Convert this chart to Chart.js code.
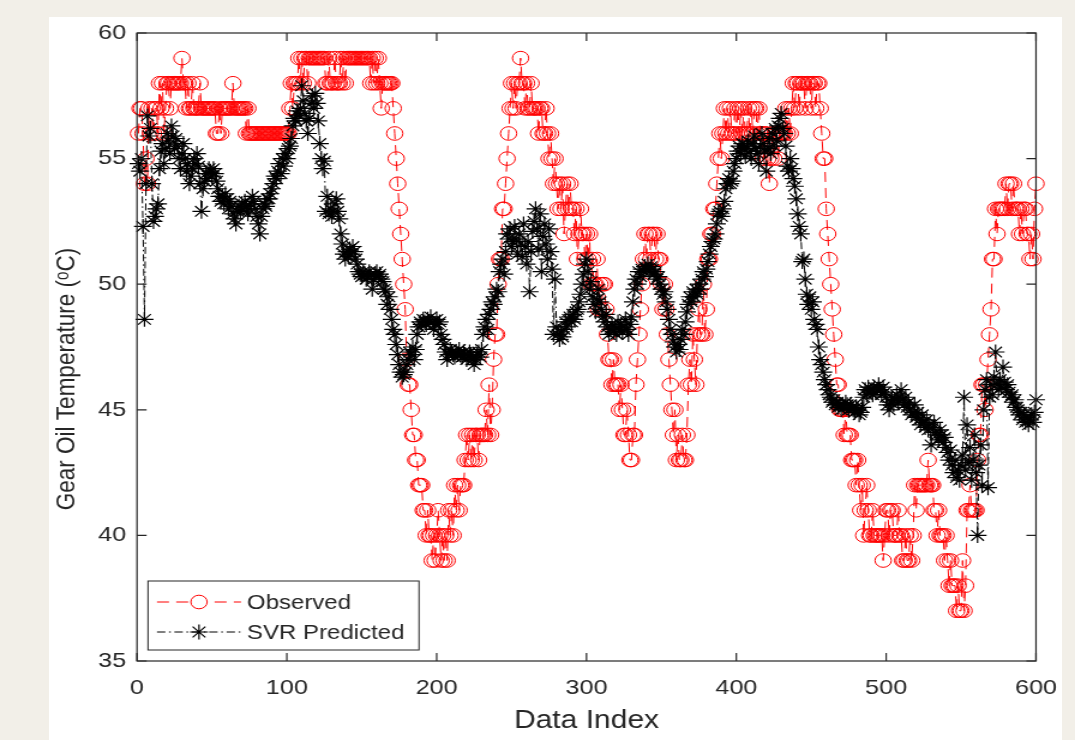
<!DOCTYPE html>
<html>
<head>
<meta charset="utf-8">
<script src="https://cdn.jsdelivr.net/npm/chart.js@4.4.1/dist/chart.umd.min.js"></script>
<style>
  html, body { margin: 0; padding: 0; }
  body { width: 1075px; height: 740px; background: #f2efe8; position: relative; overflow: hidden; }
  #panel { position: absolute; left: 49px; top: 17px; width: 1013px; height: 723px; background: #fff; }
  #wrap { position: absolute; left: 0; top: 0; transform-origin: 0 0; }
  #chart { display: block; }
</style>
</head>
<body>
<div id="panel"></div>
<div id="wrap"><canvas id="chart"></canvas></div>
<script>
/* ---------- data (index 1..600) ---------- */
const observed = [
  56,57,57,56,54,55,54,57,56,57,56,57,57,56,58,57,58,56,57,58,
  58,57,58,58,58,58,58,58,58,59,58,58,57,58,57,57,58,57,57,57,
  57,58,57,57,57,57,57,57,57,57,57,57,56,56,57,56,57,57,57,57,
  57,57,57,58,57,57,57,57,57,57,57,57,56,57,56,56,56,56,56,56,
  56,56,56,56,56,56,56,56,56,56,56,56,56,56,56,56,56,56,56,56,
  56,57,58,57,58,58,58,59,58,59,58,59,59,58,59,59,59,59,59,59,
  59,59,59,59,59,58,58,59,58,58,58,59,58,58,58,59,58,59,58,59,
  59,59,59,59,59,59,59,59,59,59,59,59,59,59,59,58,59,58,59,58,
  59,58,57,58,58,58,58,58,58,58,57,56,55,54,53,52,51,50,49,47,
  46,46,45,44,44,43,43,42,42,42,41,41,40,41,40,40,39,40,39,40,
  41,40,39,40,39,40,39,41,40,41,40,42,41,42,41,42,42,42,43,44,
  43,44,43,44,43,44,44,43,44,44,44,44,45,44,46,44,45,47,48,48,
  50,51,51,53,53,54,55,56,57,58,57,58,57,58,58,59,58,58,57,58,
  57,57,58,57,57,57,57,56,57,57,56,56,57,56,55,56,55,54,55,54,
  53,54,53,54,52,53,54,53,54,53,53,52,53,51,52,53,52,52,51,52,
  51,52,50,51,50,50,51,49,50,49,50,50,49,48,47,47,46,47,46,46,
  46,45,46,45,44,44,45,44,43,43,44,44,46,47,48,49,50,51,52,51,
  52,52,51,52,52,51,52,51,51,50,49,50,49,48,47,46,45,44,45,43,
  44,43,43,44,43,43,44,46,47,46,48,47,46,48,49,48,48,50,48,49,
  51,51,52,52,53,53,54,55,56,55,56,57,56,57,56,57,56,56,57,56,
  57,56,57,56,57,56,56,57,56,57,56,57,57,56,57,56,56,55,56,56,
  55,54,55,56,55,56,56,55,56,56,56,56,57,56,57,56,57,58,57,58,
  58,57,58,58,58,57,58,58,58,57,58,58,57,58,58,57,56,55,55,53,
  52,51,50,49,48,47,46,46,45,45,45,44,45,44,44,44,43,43,43,42,
  43,42,41,42,40,41,42,41,40,40,41,40,40,40,40,40,40,39,40,41,
  41,40,41,41,40,40,40,41,40,40,39,39,40,39,39,40,39,40,42,41,
  42,42,42,42,42,42,42,43,42,42,42,41,41,40,41,40,40,40,39,40,
  39,38,39,38,38,38,37,38,37,37,39,37,38,41,41,42,41,41,41,41,
  43,44,44,46,46,45,46,47,48,49,51,51,53,52,53,53,53,53,53,54,
  53,54,54,53,54,53,53,53,52,53,52,53,53,52,52,51,52,51,53,54
];

const svrPredicted = [
  54.8,54.5,55.0,52.3,48.6,54.0,56.7,55.9,56.2,54.0,52.5,52.7,53.0,53.2,54.6,55.3,55.6,54.8,55.4,56.0,
  55.7,55.2,56.3,55.9,55.4,55.8,55.5,55.0,54.6,55.2,55.6,55.0,54.5,54.8,54.0,54.3,54.6,55.0,54.8,55.2,
  54.7,54.0,52.9,53.8,54.1,54.4,54.2,54.6,54.5,54.3,54.6,54.4,54.1,53.8,53.5,53.3,53.5,53.2,53.6,53.4,
  53.0,53.3,53.1,52.8,52.6,52.4,52.9,53.1,52.9,53.2,53.0,53.3,53.1,52.8,53.0,53.2,53.5,53.3,53.0,52.7,
  52.4,52.0,52.7,53.0,53.2,53.1,53.4,53.4,53.6,53.8,54.0,54.3,54.2,54.5,54.8,54.4,55.0,54.7,55.2,55.0,
  55.4,55.5,55.8,56.3,56.6,56.5,56.9,56.7,57.0,57.9,57.3,56.8,56.5,56.0,56.6,57.2,57.5,57.0,57.6,57.2,
  56.5,55.6,55.0,54.6,54.9,52.9,53.5,52.8,53.0,52.7,52.9,53.2,53.4,52.9,52.6,52.0,51.6,51.2,51.0,51.3,
  51.1,51.4,51.2,51.5,51.3,51.0,50.8,50.5,50.4,50.3,50.5,50.4,50.2,50.3,50.5,50.4,49.8,50.2,50.4,50.5,
  50.3,50.4,50.2,50.1,49.8,49.7,49.2,49.5,49.0,48.6,48.2,48.0,47.6,47.2,46.8,46.5,46.3,46.4,46.5,46.8,
  47.0,47.3,47.2,47.5,47.0,47.4,48.0,48.3,48.5,48.4,48.6,48.5,48.4,48.6,48.5,48.7,48.5,48.2,48.4,48.6,
  48.4,48.5,48.0,47.8,47.6,47.3,47.0,47.2,47.4,47.3,47.2,47.1,47.3,47.2,47.4,47.2,47.1,47.3,47.2,47.0,
  47.1,47.3,47.2,47.0,46.8,47.0,47.2,47.3,47.1,47.4,48.0,48.3,48.6,48.2,48.8,49.0,49.3,49.2,49.5,49.8,
  49.7,50.5,50.8,51.0,50.4,51.3,52.0,51.8,52.2,51.5,51.7,52.3,51.8,51.2,52.0,51.6,51.1,52.4,51.5,50.8,
  51.7,49.7,51.3,52.1,52.5,53.0,52.2,51.4,52.8,50.5,51.9,52.4,51.6,51.0,52.2,51.3,50.6,48.0,50.2,48.3,
  48.0,47.8,48.1,47.9,48.2,48.5,48.3,48.6,48.7,48.5,48.8,48.6,48.9,49.0,49.3,49.6,50.0,50.4,50.8,51.0,
  50.5,49.8,50.1,49.5,49.2,48.9,49.4,49.8,49.3,49.0,48.7,48.5,48.8,48.3,48.0,48.2,48.4,48.1,48.3,48.0,
  48.5,48.2,48.4,48.1,48.3,48.6,48.2,48.0,48.4,48.7,49.3,49.8,50.2,50.0,50.5,50.3,50.6,50.5,50.7,50.6,
  50.8,50.5,50.7,50.6,50.4,50.5,50.2,50.3,50.0,49.8,49.6,49.7,49.3,49.0,48.6,48.2,48.0,47.7,47.5,47.3,
  47.6,47.4,47.8,48.2,48.0,48.5,48.9,49.2,49.5,49.3,49.7,49.5,49.8,49.6,50.0,49.8,50.2,50.5,50.3,50.6,
  50.9,51.2,51.5,51.7,51.8,52.0,52.4,52.8,52.9,52.7,53.0,53.3,53.8,54.0,54.2,54.0,54.1,54.5,54.8,55.0,
  55.3,55.5,55.2,55.6,55.4,55.1,55.5,55.7,55.3,55.0,55.6,55.9,55.4,55.2,54.8,55.5,56.0,55.6,55.3,54.5,
  55.4,55.8,55.2,56.0,55.5,56.2,55.7,56.3,56.6,56.8,56.2,56.0,55.5,54.7,54.5,55.0,54.6,54.2,53.9,53.4,
  52.8,52.3,52.0,50.9,51.0,50.2,49.6,49.2,49.5,49.0,49.3,48.6,48.4,48.2,47.5,47.0,46.8,46.5,46.2,46.0,
  45.8,45.6,45.5,45.3,45.4,45.2,45.3,45.1,45.2,45.0,45.2,45.1,45.3,45.2,45.0,45.2,45.1,45.0,44.9,45.1,
  45.0,44.8,44.9,45.1,45.5,45.8,45.6,45.9,45.7,45.8,45.6,45.9,45.7,45.8,46.0,45.8,45.6,45.9,45.7,45.5,
  45.2,45.0,45.3,45.5,45.2,45.4,45.6,45.3,45.5,45.8,45.4,45.2,45.5,45.1,45.3,45.0,44.8,44.9,45.2,44.7,
  44.9,44.6,44.4,44.8,44.5,44.3,44.6,44.2,44.4,43.6,44.3,44.5,44.1,44.0,43.8,44.2,44.0,43.7,43.9,43.5,
  43.3,43.0,43.4,42.8,42.5,43.0,42.3,42.6,42.2,42.8,43.2,45.5,42.6,44.4,42.9,43.5,42.2,43.0,44.0,42.5,
  40.0,42.8,43.6,42.0,45.0,45.8,46.2,41.9,45.5,46.0,45.6,46.3,47.3,46.0,45.8,46.2,45.9,46.7,46.1,45.8,
  46.0,45.7,45.5,45.6,45.3,45.4,45.1,45.0,44.8,44.9,44.6,44.8,44.5,44.7,44.4,44.6,44.8,44.5,44.9,45.4
];

const seriesNames = ["Observed", "SVR Predicted"];
const xTicks = [0, 100, 200, 300, 400, 500, 600];
const yTicks = [35, 40, 45, 50, 55, 60];
const xTitle = "Data Index";
const yTitle = "Gear Oil Temperature (\u1D52C)";

/* ---------- layout: the figure is stretched sideways, so draw narrow and scale ---------- */
const W = 896, H = 740;
const SX = 1075 / W;
const AXIS = "#262626";
const FONT = "'Liberation Sans', Arial, sans-serif";
const TICK_LEN = 8;

const canvas = document.getElementById("chart");
canvas.width = W; canvas.height = H;
canvas.style.width = W + "px"; canvas.style.height = H + "px";
document.getElementById("wrap").style.transform = `scaleX(${SX})`;

const toPoints = (arr) => arr.map((v, i) => ({ x: i + 1, y: v }));

/* box, inward ticks on all four sides (MATLAB style) */
const axisBox = {
  id: "axisBox",
  afterDatasetsDraw(chart) {
    const { ctx, chartArea: a, scales: { x, y } } = chart;
    ctx.save();
    ctx.strokeStyle = AXIS;
    ctx.lineWidth = 1.2;
    ctx.strokeRect(a.left, a.top, a.right - a.left, a.bottom - a.top);
    ctx.beginPath();
    xTicks.forEach((t) => {
      const px = x.getPixelForValue(t);
      ctx.moveTo(px, a.bottom); ctx.lineTo(px, a.bottom - TICK_LEN);
      ctx.moveTo(px, a.top); ctx.lineTo(px, a.top + TICK_LEN);
    });
    yTicks.forEach((t) => {
      const py = y.getPixelForValue(t);
      ctx.moveTo(a.left, py); ctx.lineTo(a.left + TICK_LEN, py);
      ctx.moveTo(a.right, py); ctx.lineTo(a.right - TICK_LEN, py);
    });
    ctx.stroke();
    ctx.restore();
  },
};

/* y label sits a little below the axis centre in the original */
const yLabel = {
  id: "yLabel",
  afterDraw(chart) {
    const { ctx } = chart;
    ctx.save();
    ctx.translate(67 / SX, 379);
    ctx.rotate(-Math.PI / 2);
    ctx.fillStyle = AXIS;
    ctx.font = `22.5px ${FONT}`;
    ctx.textAlign = "center";
    ctx.textBaseline = "middle";
    ctx.fillText(yTitle, 0, 0);
    ctx.restore();
  },
};

/* legend box in lower-left corner: dashed line sample with marker in the middle */
const matLegend = {
  id: "matLegend",
  afterDraw(chart) {
    const { ctx } = chart;
    const L = 148 / SX, R = 419 / SX, T = 581, B = 650;
    ctx.save();
    ctx.fillStyle = "#fff";
    ctx.fillRect(L, T, R - L, B - T);
    ctx.strokeStyle = AXIS;
    ctx.lineWidth = 1;
    ctx.strokeRect(L, T, R - L, B - T);
    const rows = [602, 632];
    const x0 = 157 / SX, x1 = 241 / SX, xm = 199 / SX;
    chart.data.datasets.forEach((ds, i) => {
      const yy = rows[i];
      ctx.beginPath();
      ctx.setLineDash(ds.borderDash);
      ctx.strokeStyle = ds.borderColor;
      ctx.lineWidth = ds.borderWidth;
      ctx.moveTo(x0, yy); ctx.lineTo(x1, yy);
      ctx.stroke();
      ctx.setLineDash([]);
      ctx.lineWidth = ds.pointBorderWidth;
      Chart.helpers.drawPoint(ctx, {
        pointStyle: ds.pointStyle, radius: ds.pointRadius, borderWidth: ds.pointBorderWidth, rotation: 0,
      }, xm, yy);
      ctx.fillStyle = AXIS;
      ctx.font = `20px ${FONT}`;
      ctx.textBaseline = "middle";
      ctx.textAlign = "left";
      ctx.fillText(ds.label, 247 / SX, yy + 1);
    });
    ctx.restore();
  },
};

new Chart(canvas, {
  type: "line",
  data: {
    datasets: [
      {
        label: seriesNames[0],
        data: toPoints(observed),
        borderColor: "#ff0000",
        borderWidth: 1,
        borderDash: [10, 6],
        pointStyle: "circle",
        pointRadius: 6.8,
        pointBorderColor: "#ff0000",
        pointBackgroundColor: "rgba(0,0,0,0)",
        pointBorderWidth: 1,
        order: 2,
        clip: false,
      },
      {
        label: seriesNames[1],
        data: toPoints(svrPredicted),
        borderColor: "#000000",
        borderWidth: 1,
        borderDash: [7, 3, 1.5, 3],
        pointStyle: "star",
        pointRadius: 7.5,
        pointBorderColor: "#000000",
        pointBackgroundColor: "#000000",
        pointBorderWidth: 1.2,
        order: 1,
        clip: false,
      },
    ],
  },
  options: {
    responsive: false,
    animation: false,
    events: [],
    layout: { padding: { left: 0, top: 33, right: W - 1040 / SX, bottom: 0 } },
    plugins: { legend: { display: false }, tooltip: { enabled: false } },
    scales: {
      x: {
        type: "linear",
        min: 0,
        max: 600,
        afterBuildTicks: (s) => { s.ticks = xTicks.map((v) => ({ value: v })); },
        afterFit: (s) => { s.height = H - 661; },
        grid: { display: false, drawTicks: false },
        border: { display: false },
        ticks: { padding: 15, color: AXIS, font: { family: FONT, size: 21 }, maxRotation: 0 },
        title: { display: true, text: xTitle, color: AXIS, font: { family: FONT, size: 25 }, padding: { top: 0, bottom: 4 } },
      },
      y: {
        min: 35,
        max: 60,
        afterBuildTicks: (s) => { s.ticks = yTicks.map((v) => ({ value: v })); },
        afterFit: (s) => { s.width = 137 / SX; },
        grid: { display: false, drawTicks: false },
        border: { display: false },
        ticks: { padding: 9, color: AXIS, font: { family: FONT, size: 21 } },
        title: { display: false },
      },
    },
  },
  plugins: [axisBox, yLabel, matLegend],
});
</script>
</body>
</html>
